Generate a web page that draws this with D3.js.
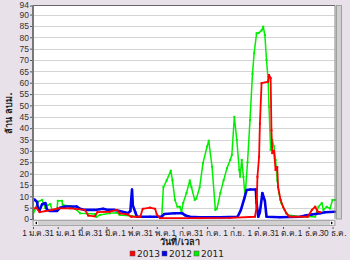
<!DOCTYPE html>
<html>
<head>
<meta charset="utf-8">
<script src="https://cdn.jsdelivr.net/npm/d3@7"></script>
<style>
  body { margin: 0; background: #e9e1e9; }
  svg { display: block; font-family: Tahoma, "DejaVu Sans", "Noto Sans", sans-serif; }
</style>
</head>
<body>
<svg id="chart" width="350" height="260"></svg>
<script>
// day of year -> million cubic metres
var days2013 = [0, 4, 8, 15, 23, 30, 45, 63, 67, 75, 78, 93, 102, 105, 115, 119, 130, 133, 142, 148, 150, 154, 202, 239, 269, 271, 272, 274, 275, 277, 285, 286, 288, 289, 290, 292, 294, 296, 297, 300, 303, 307, 311, 333, 338, 342, 345, 348];
var vals2013 = [4.4, 5, 3, 3.5, 4, 4.7, 4.7, 4, 1.5, 1.2, 3, 3.2, 4, 2.5, 2, 1, 1, 4.5, 5, 4.5, 2, 0.4, 0.4, 0.5, 1, 5.4, 18.6, 27.4, 42, 59.8, 60.5, 63.4, 62, 39, 29, 30, 21.6, 22.9, 14.2, 8.4, 5.4, 2.5, 1, 1, 4, 5.4, 3.2, 3];

var days2012 = [0, 2, 5, 6, 8, 11, 15, 17, 21, 29, 33, 39, 53, 57, 63, 75, 85, 91, 99, 105, 111, 115, 118, 120, 121, 124, 126, 142, 156, 159, 172, 181, 185, 190, 202, 227, 248, 252, 256, 259, 263, 270, 271, 273, 275, 278, 281, 283, 299, 324, 330, 338, 348, 354, 366];
var vals2012 = [8.7, 8.5, 7.5, 4.5, 4, 6.5, 7, 4, 3.5, 3.5, 5, 5.5, 5.5, 4.5, 4, 4, 4.5, 4, 4, 3.5, 3, 2.5, 3.5, 13, 6, 3, 1, 1, 1, 2.2, 2.5, 2.5, 1.5, 1, 0.8, 0.8, 1, 4, 9, 12.8, 13, 13, 7, 1, 3, 11.4, 8, 1, 0.8, 1, 1.5, 2, 2.5, 3, 3.2];

var days2011 = [0, 2, 6, 11, 15, 18, 21, 23, 29, 30, 35, 36, 45, 53, 57, 75, 77, 81, 93, 102, 105, 120, 126, 154, 156, 158, 162, 167, 169, 172, 175, 178, 180, 182, 186, 190, 192, 196, 198, 202, 206, 211, 213, 217, 221, 223, 227, 231, 235, 239, 241, 244, 247, 250, 251, 253, 255, 257, 260, 263, 266, 268, 271, 274, 277, 279, 281, 283, 285, 286, 288, 290, 292, 294, 296, 298, 301, 305, 309, 324, 342, 346, 350, 352, 356, 360, 363, 366];
var vals2011 = [1.8, 4, 7.6, 8.4, 4.8, 6.2, 6.6, 4, 4, 8, 8, 6.2, 5.7, 4, 2.5, 2.2, 0.9, 1.8, 2.5, 2.8, 1.8, 1.3, 0.9, 0.9, 1, 14, 17, 21.3, 17, 8.4, 5.4, 5.4, 3.2, 7, 11.4, 17, 14, 8.4, 9, 14, 24.6, 31.9, 34.5, 23, 4, 4.6, 11.4, 17, 22.3, 26, 28.2, 45, 34.8, 21.6, 18.6, 26, 18.6, 9.8, 25, 43.6, 64, 73, 81.8, 82, 83, 84.7, 81, 70, 61, 49.5, 30.4, 34.8, 32, 26, 17, 11.4, 7, 4, 1.8, 1, 1, 5.4, 7, 4, 5.4, 4.6, 8.4, 8.4];

var tickDays = [0, 30, 59, 89, 120, 150, 181, 211, 243, 273, 303, 334, 363];
var tickLabels = ["1 ม.ค.", "31 ม.ค.", "1 มี.ค.", "31 มี.ค.", "1 พ.ค.", "31 พ.ค.", "1 ก.ค.", "31 ก.ค.", "1 ก.ย.", "1 ต.ค.", "31 ต.ค.", "1 ธ.ค.", "30 ธ.ค."];
var yTicks = [0, 5, 10, 15, 20, 25, 30, 35, 40, 45, 50, 55, 60, 65, 70, 75, 80, 85, 90, 94];

var series = [
  { name: "2011", days: days2011, vals: vals2011, color: "#00ee00", width: 1.5 },
  { name: "2012", days: days2012, vals: vals2012, color: "#0000ee", width: 2.6 },
  { name: "2013", days: days2013, vals: vals2013, color: "#ff0000", width: 1.8 }
];
var legendOrder = ["2013", "2012", "2011"];

var svg = d3.select('#chart'),
    plotLeft = 33, plotRight = 335, plotTop = 5.5, plotBottom = 219;

var x = d3.scaleLinear().domain([0, 366]).range([plotLeft, plotRight]);
var y = d3.scaleLinear().domain([0, 94]).range([plotBottom, plotTop]);

svg.append('rect')
  .attr('x', plotLeft).attr('y', plotTop)
  .attr('width', plotRight - plotLeft).attr('height', plotBottom - plotTop)
  .attr('fill', '#ffffff');

// grid
svg.append('g').selectAll('line')
  .data(yTicks.filter(function(d) { return d > 0 && d < 94; }))
  .enter().append('line')
  .attr('x1', plotLeft).attr('x2', plotRight)
  .attr('y1', function(d) { return Math.round(y(d)) + 0.5; })
  .attr('y2', function(d) { return Math.round(y(d)) + 0.5; })
  .attr('stroke', '#d4d4d4')
  .attr('stroke-width', 1);

// y axis
var yAxis = svg.append('g')
  .attr('transform', 'translate(' + plotLeft + ',0)')
  .call(d3.axisLeft(y).tickValues(yTicks).tickSize(3).tickPadding(1));
yAxis.select('.domain').remove();
yAxis.selectAll('line').attr('stroke', '#555');
yAxis.selectAll('text').attr('font-size', '8.5px').attr('fill', '#333');
yAxis.selectAll('.tick').filter(function(d) { return d === 94; })
  .select('text').attr('dy', '0.2em');

// lines
var line = d3.line()
  .x(function(d) { return x(d[0]); })
  .y(function(d) { return y(d[1]); });

series.forEach(function(s) {
  var pts = s.days.map(function(d, i) { return [d, s.vals[i]]; });
  svg.append('path')
    .datum(pts)
    .attr('fill', 'none')
    .attr('stroke', s.color)
    .attr('stroke-width', s.width)
    .attr('stroke-linejoin', 'round')
    .attr('d', line);
  svg.append('g').selectAll('rect')
    .data(pts)
    .enter().append('rect')
    .attr('x', function(d) { return x(d[0]) - 1; })
    .attr('y', function(d) { return y(d[1]) - 1; })
    .attr('width', 2).attr('height', 2)
    .attr('fill', s.color);
});

// frame
svg.append('line').attr('x1', plotLeft).attr('x2', plotRight).attr('y1', plotTop).attr('y2', plotTop)
  .attr('stroke', '#666').attr('stroke-width', 1);
svg.append('line').attr('x1', plotRight).attr('x2', plotRight).attr('y1', plotTop).attr('y2', plotBottom)
  .attr('stroke', '#888').attr('stroke-width', 1);
svg.append('line').attr('x1', plotLeft).attr('x2', plotLeft).attr('y1', plotTop).attr('y2', plotBottom + 1)
  .attr('stroke', '#777').attr('stroke-width', 2);

// scroll bars
svg.append('rect').attr('x', plotRight + 1.5).attr('y', plotTop).attr('width', 5).attr('height', plotBottom - plotTop)
  .attr('fill', '#d0d0d0').attr('stroke', '#a0a0a0').attr('stroke-width', 1);
svg.append('rect').attr('x', plotLeft).attr('y', plotBottom + 1.5).attr('width', plotRight - plotLeft).attr('height', 5)
  .attr('fill', '#d0d0d0').attr('stroke', '#a8a8a8').attr('stroke-width', 1);
svg.append('rect').attr('x', plotLeft + 1).attr('y', plotBottom + 2).attr('width', 4).attr('height', 4).attr('fill', '#f4f4f4');
svg.append('rect').attr('x', plotRight - 5).attr('y', plotBottom + 2).attr('width', 4).attr('height', 4).attr('fill', '#f4f4f4');
svg.append('path').attr('d', 'M' + (plotLeft + 2) + ',' + (plotBottom + 4) + 'l2,-1.5v3z').attr('fill', '#000');
svg.append('path').attr('d', 'M' + (plotRight - 2) + ',' + (plotBottom + 4) + 'l-2,-1.5v3z').attr('fill', '#000');

// x axis
var xAxis = svg.append('g')
  .attr('transform', 'translate(0,' + (plotBottom + 8) + ')')
  .call(d3.axisBottom(x).tickValues(tickDays)
    .tickFormat(function(d, i) { return tickLabels[i]; })
    .tickSize(2).tickPadding(1));
xAxis.select('.domain').remove();
xAxis.selectAll('line').attr('stroke', '#555');
xAxis.selectAll('text').attr('font-size', '8.3px').attr('fill', '#222');

svg.append('text')
  .attr('x', 180).attr('y', 245)
  .attr('text-anchor', 'middle')
  .attr('font-size', '9px').attr('font-weight', 'bold').attr('fill', '#222')
  .text('วันที่/เวลา');

svg.append('text')
  .attr('transform', 'translate(12,113) rotate(-90)')
  .attr('text-anchor', 'middle')
  .attr('font-size', '9px').attr('font-weight', 'bold').attr('fill', '#222')
  .text('ล้าน ลบม.');

// legend
var legend = svg.append('g').selectAll('g')
  .data(legendOrder)
  .enter().append('g')
  .attr('transform', function(d, i) { return 'translate(' + (130 + i * 32) + ',255)'; });
legend.append('rect')
  .attr('x', 0).attr('y', -4).attr('width', 5).attr('height', 5)
  .attr('fill', function(d) { return series.filter(function(s) { return s.name === d; })[0].color; })
  .attr('stroke', '#555').attr('stroke-width', 0.5);
legend.append('text')
  .attr('x', 7).attr('y', 1.5)
  .attr('font-size', '9px').attr('fill', '#222')
  .text(function(d) { return d; });
</script>
</body>
</html>
